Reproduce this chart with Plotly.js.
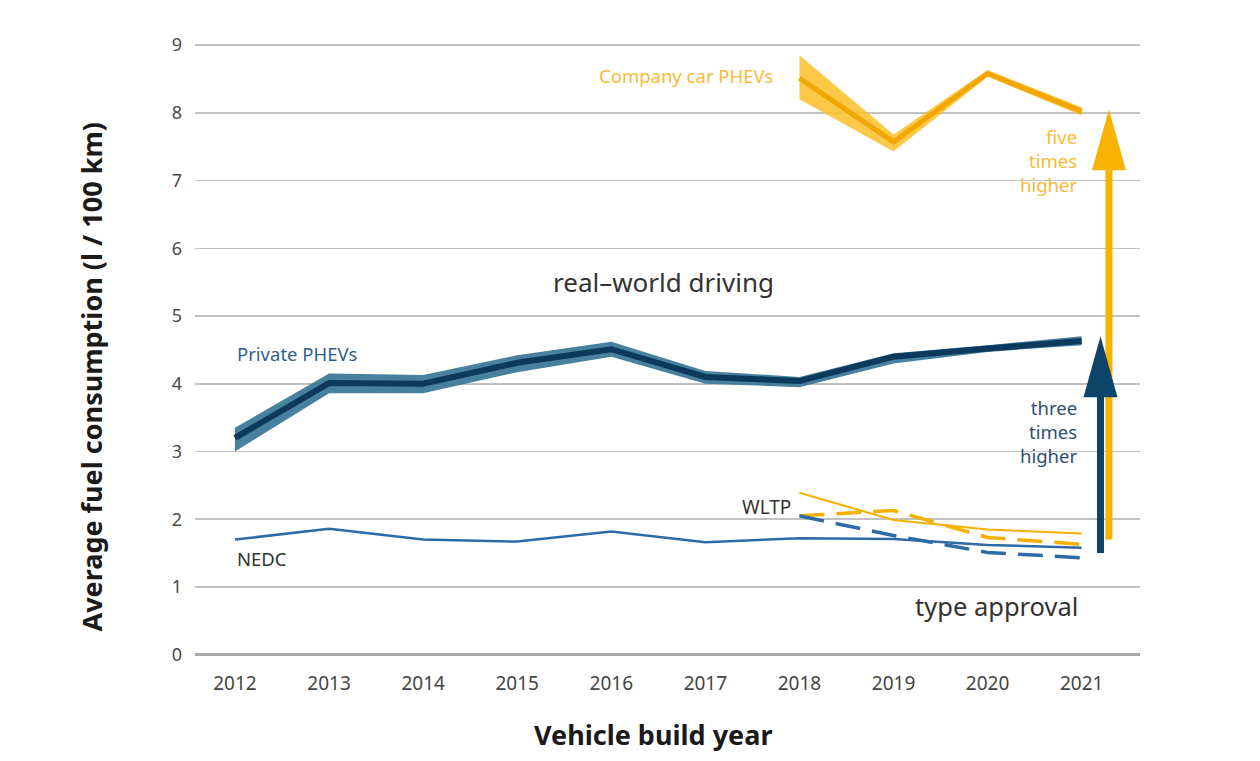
<!DOCTYPE html>
<html>
<head>
<meta charset="utf-8">
<script src="https://cdn.plot.ly/plotly-3.0.1.min.js"></script>
<style>
  html, body { margin: 0; padding: 0; background: #fff; }
  #chart { width: 1260px; height: 761px; }
</style>
</head>
<body>
<div id="chart"></div>
<script>
// build years on the x axis
const years = [2012, 2013, 2014, 2015, 2016, 2017, 2018, 2019, 2020, 2021]
const wltpYears = [2018, 2019, 2020, 2021]

// real-world driving, private PHEVs (mean and band)
const privateMid = [3.2, 4.01, 4.0, 4.31, 4.51, 4.1, 4.04, 4.4, 4.52, 4.63]
const privateHigh = [3.35, 4.15, 4.13, 4.42, 4.62, 4.19, 4.1, 4.45, 4.57, 4.7]
const privateLow = [3.0, 3.86, 3.86, 4.17, 4.4, 4.0, 3.95, 4.3, 4.47, 4.57]

// real-world driving, company car PHEVs (2018-2021)
const companyMid = [8.51, 7.57, 8.58, 8.02]
const companyHigh = [8.85, 7.68, 8.63, 8.08]
const companyLow = [8.2, 7.43, 8.53, 7.96]

// type approval values
const nedc = [1.70, 1.86, 1.70, 1.67, 1.82, 1.66, 1.72, 1.71, 1.62, 1.58]
const wltpPrivate = [2.05, 1.76, 1.51, 1.43]
const wltpCompany = [2.39, 1.99, 1.85, 1.79]
const wltpCompanyDash = [2.05, 2.13, 1.73, 1.63]

// "x times higher" arrows: yellow (company), dark blue (private)
const arrowX = [2021.29, 2021.2]
const arrowFrom = [1.7, 1.5]
const arrowTo = [8.05, 4.7]
const arrowColors = ['#f6b300', '#0f4469']

const yTicks = [0, 1, 2, 3, 4, 5, 6, 7, 8, 9]

const FONT = '"Noto Sans", "Open Sans", sans-serif'
const BLUE_LINE = '#2c6ba6'
const YELLOW_LINE = '#f5b000'
const DASH = '25px,12px'

const band = (x, lo, hi, fill) => [
	{ x, y: lo, mode: 'lines', line: { width: 0, color: fill }, hoverinfo: 'skip', type: 'scatter' },
	{ x, y: hi, mode: 'lines', line: { width: 0, color: fill }, fill: 'tonexty', fillcolor: fill, hoverinfo: 'skip', type: 'scatter' },
]

const traces = [
	...band(years, privateLow, privateHigh, 'rgba(62,122,153,0.95)'),
	{ x: years, y: privateMid, mode: 'lines', line: { color: '#0b3a5d', width: 6 }, type: 'scatter' },
	...band(wltpYears, companyLow, companyHigh, 'rgba(251,190,40,0.85)'),
	{ x: wltpYears, y: companyMid, mode: 'lines', line: { color: '#f2a600', width: 5 }, type: 'scatter' },
	{ x: years, y: nedc, mode: 'lines', line: { color: BLUE_LINE, width: 2.5 }, type: 'scatter' },
	{ x: wltpYears, y: wltpCompany, mode: 'lines', line: { color: YELLOW_LINE, width: 2 }, type: 'scatter' },
	{ x: wltpYears, y: wltpCompanyDash, mode: 'lines', line: { color: YELLOW_LINE, width: 3.5, dash: DASH }, type: 'scatter' },
	{ x: wltpYears, y: wltpPrivate, mode: 'lines', line: { color: BLUE_LINE, width: 3.5, dash: DASH }, type: 'scatter' },
]

// arrows: shaft as a line, head as a triangle (pixel width, data height)
const headLen = 0.9
const shapes = []
arrowX.forEach((x, i) => {
	const base = arrowTo[i] - headLen
	shapes.push({
		type: 'line', xref: 'x', yref: 'y', x0: x, x1: x, y0: arrowFrom[i], y1: base + 0.05,
		line: { color: arrowColors[i], width: 7 },
	})
	shapes.push({
		type: 'path', xref: 'x', yref: 'y', xsizemode: 'pixel', xanchor: x,
		path: `M-17,${base} L17,${base} L0,${arrowTo[i]} Z`,
		fillcolor: arrowColors[i], line: { width: 0 },
	})
})

const note = (text, x, y, xanchor, color, size, extra) =>
	Object.assign({ text, x, y, xref: 'x', yref: 'y', xanchor, yanchor: 'middle', showarrow: false,
		font: { family: FONT, size, color } }, extra || {})

const annotations = [
	note('Company car PHEVs', 2017.74, 8.55, 'right', '#f8bb36', 18.5),
	note('five<br>times<br>higher', 2020.97, 7.3, 'right', '#f8bb36', 18.5, { align: 'right' }),
	note('three<br>times<br>higher', 2020.97, 3.29, 'right', '#2d4f70', 18.5, { align: 'right' }),
	note('Private PHEVs', 2012, 4.45, 'left', '#2f5f88', 18.5),
	note('real\u2013world driving', 2016.56, 5.5, 'center', '#333333', 26),
	note('WLTP', 2017.93, 2.18, 'right', '#333333', 19),
	note('NEDC', 2012, 1.42, 'left', '#333333', 18.5),
	note('type approval', 2020.98, 0.72, 'right', '#333333', 25.5),
	// axis titles, placed where the reference has them
	{ text: '<b>Average fuel consumption (l / 100 km)</b>', xref: 'paper', yref: 'paper',
		x: -0.109, y: 0.455, xanchor: 'center', yanchor: 'middle', textangle: -90, showarrow: false,
		font: { family: FONT, size: 27, color: '#1a1a1a' } },
	{ text: '<b>Vehicle build year</b>', xref: 'paper', yref: 'paper',
		x: 0.485, y: -0.13, xanchor: 'center', yanchor: 'middle', showarrow: false,
		font: { family: FONT, size: 27, color: '#1a1a1a' } },
]

const layout = {
	width: 1260,
	height: 761,
	paper_bgcolor: '#ffffff',
	plot_bgcolor: '#ffffff',
	margin: { l: 195, r: 120, t: 43, b: 106 },
	showlegend: false,
	font: { family: FONT, color: '#444' },
	xaxis: {
		range: [2011.575, 2021.62],
		tickvals: years,
		ticktext: years.map(String),
		showgrid: false,
		zeroline: false,
		showline: false,
		ticks: '',
		ticklabelstandoff: 15,
		tickfont: { family: FONT, size: 19, color: '#444' },
	},
	yaxis: {
		range: [-0.004, 9.03],
		tickvals: yTicks,
		showgrid: true,
		gridcolor: '#c2c2c2',
		gridwidth: 1.5,
		zeroline: true,
		zerolinecolor: '#a8a8a8',
		zerolinewidth: 2.5,
		showline: false,
		ticks: '',
		ticklabelstandoff: 12,
		tickfont: { family: FONT, size: 18, color: '#4a4a4a' },
	},
	shapes,
	annotations,
}

Plotly.newPlot('chart', traces, layout, { staticPlot: true })
</script>
</body>
</html>
